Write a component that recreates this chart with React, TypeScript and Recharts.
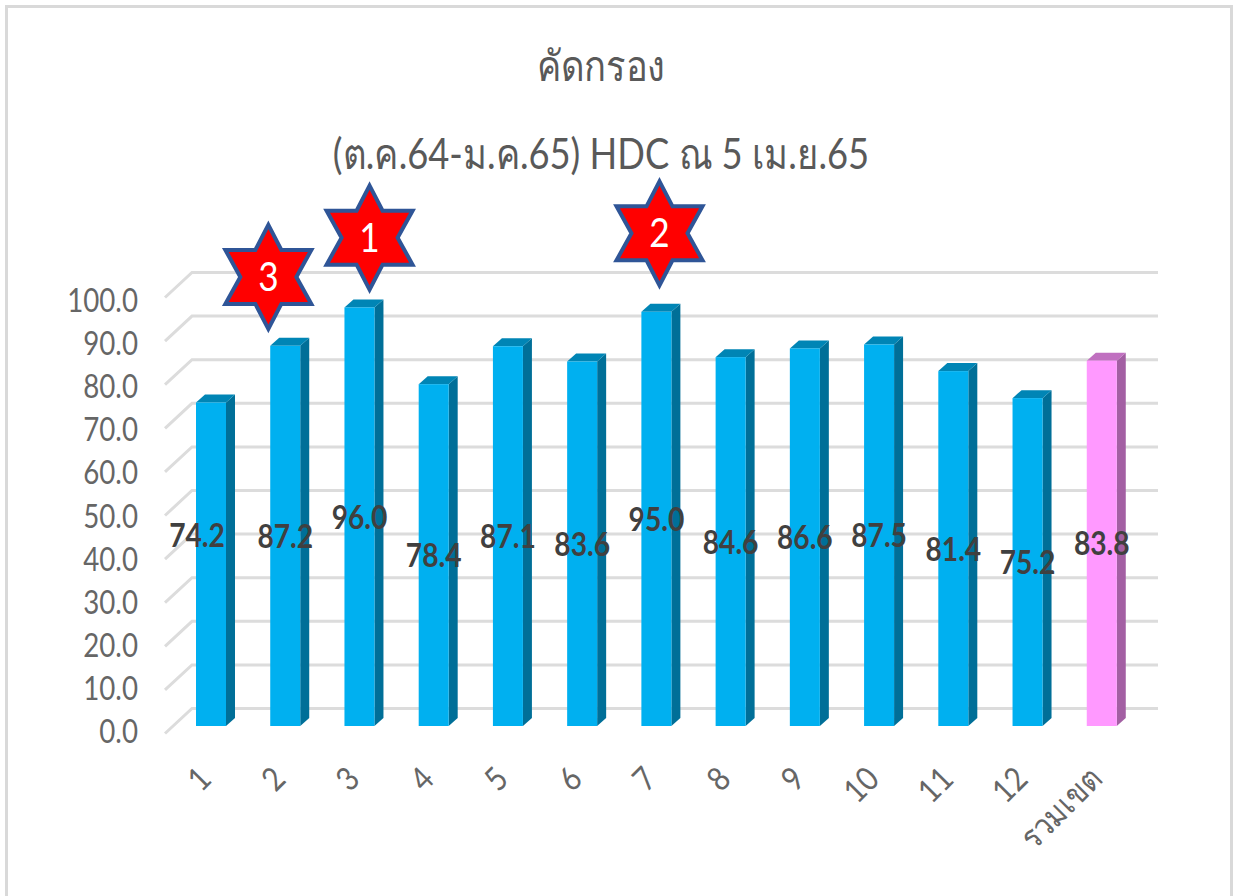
import { BarChart, Bar, XAxis, YAxis, LabelList, ReferenceDot, CartesianGrid } from 'recharts';

const categories = ['1', '2', '3', '4', '5', '6', '7', '8', '9', '10', '11', '12', 'รวมเขต'];
const values = [74.2, 87.2, 96.0, 78.4, 87.1, 83.6, 95.0, 84.6, 86.6, 87.5, 81.4, 75.2, 83.8];
const yTicks = [0, 10, 20, 30, 40, 50, 60, 70, 80, 90, 100];
const rankCategories = ['3', '7', '2'];
const rankLabels = ['1', '2', '3'];
const rankLevels = [112, 113, 103];
const titleLines = ['คัดกรอง', '(ต.ค.64-ม.ค.65) HDC ณ 5 เม.ย.65'];

const rows = categories.map((c, i) => ({ category: c, value: values[i] }));

const FONT = 'Lato, "Noto Sans", sans-serif';
const PLOT_LEFT = 174;
const GRID_RIGHT = 1158;

const blue = { front: '#00b0f0', side: '#006f98', top: '#0085b5' };
const pink = { front: '#ff99ff', side: '#a35fa3', top: '#c070c0' };

function Bar3D(props: any) {
  const { x, y, width, height, payload } = props;
  const c = payload.category === 'รวมเขต' ? pink : blue;
  const dx = 9;
  const dy = 8;
  return (
    <g>
      <polygon points={`${x + width},${y} ${x + width + dx},${y - dy} ${x + width + dx},${y + height - dy} ${x + width},${y + height}`} fill={c.side} />
      <polygon points={`${x},${y} ${x + dx},${y - dy} ${x + width + dx},${y - dy} ${x + width},${y}`} fill={c.top} />
      <rect x={x} y={y} width={width} height={height} fill={c.front} />
    </g>
  );
}

// gridline runs up the side wall and then along the back
function GridLine(props: any) {
  const { y1 } = props;
  return <path d={`M165 ${y1 + 7.5} L192 ${y1 - 17.5} L${GRID_RIGHT} ${y1 - 17.5}`} fill="none" stroke="#dcdcdc" strokeWidth={3} />;
}

function YTick(props: any) {
  const { y, payload } = props;
  // the original labels drift a little from their lines towards the top
  const drift = (Number(payload.value) / 100) * 5;
  return (
    <text transform={`translate(138 ${y + 17 + drift}) scale(0.84 1)`} textAnchor="end" fontSize={33} fontFamily={FONT} fill="#666666">
      {Number(payload.value).toFixed(1)}
    </text>
  );
}

function XTick(props: any) {
  const { x, y, payload } = props;
  return (
    <g transform={`translate(${x + 2} ${y + 47}) rotate(-45) scale(0.88 1)`}>
      <text textAnchor="end" fontSize={33} fontFamily={FONT} fill="#666666">{payload.value}</text>
    </g>
  );
}

function ValueLabel(props: any) {
  const { x, y, width, height, value, index } = props;
  // first label was dragged off its bar in the original
  const shiftX = index === 0 ? -14 : 0;
  const shiftY = index === 0 ? -28 : 1;
  return (
    <text
      transform={`translate(${x + width / 2 + shiftX} ${y + height / 2 + shiftY + 11}) scale(0.88 1)`}
      textAnchor="middle"
      fontSize={32}
      fontWeight={700}
      fontFamily={FONT}
      fill="#404040"
    >
      {Number(value).toFixed(1)}
    </text>
  );
}

function Star(props: any) {
  const { cx, cy, text, shift } = props;
  const pts = [[0, -52], [13, -27], [43, -27], [28, 0], [43, 27], [13, 27], [0, 52], [-13, 27], [-43, 27], [-28, 0], [-43, -27], [-13, -27]];
  return (
    <g transform={`translate(${cx + shift} ${cy})`}>
      <polygon points={pts.map(p => p.join(',')).join(' ')} fill="#ff0000" stroke="#2f5597" strokeWidth={4} strokeLinejoin="miter" />
      <text transform="translate(0 14) scale(0.88 1)" textAnchor="middle" fontSize={40} fontFamily={FONT} fill="#ffffff">{text}</text>
    </g>
  );
}

const starShift = [10, 3, -17];

const titleStyle = {
  position: 'absolute',
  left: 0,
  width: 1202,
  textAlign: 'center',
  fontFamily: FONT,
  fontSize: 42,
  lineHeight: '56px',
  color: '#595959',
  transform: 'scaleX(0.865)',
} as const;

export default function App() {
  return (
    <div style={{ position: 'absolute', left: 0, top: 0, width: 1236, height: 896, overflow: 'hidden', background: '#fff' }}>
      <div style={{ position: 'absolute', left: 5, top: 5, width: 1222, height: 900, border: '3px solid #d9d9d9' }} />
      <div style={{ ...titleStyle, top: 37 }}>{titleLines[0]}</div>
      <div style={{ ...titleStyle, top: 125 }}>{titleLines[1]}</div>
      <div style={{ position: 'absolute', left: 0, top: 0 }}>
        <BarChart width={1236} height={896} data={rows} margin={{ top: 290, right: 97, bottom: 0, left: 0 }}>
          <CartesianGrid vertical={false} horizontalValues={yTicks} horizontal={(p: any) => <GridLine key={p.index} {...p} />} />
          <YAxis width={PLOT_LEFT} domain={[0, 100]} ticks={yTicks} axisLine={false} tickLine={false} interval={0} tick={<YTick />} />
          <XAxis dataKey="category" height={170} axisLine={false} tickLine={false} interval={0} tick={<XTick />} />
          <Bar dataKey="value" barSize={30} shape={<Bar3D />} isAnimationActive={false}>
            <LabelList dataKey="value" content={<ValueLabel />} />
          </Bar>
          {rankCategories.map((c, i) => (
            <ReferenceDot
              key={c}
              x={c}
              y={rankLevels[i]}
              ifOverflow="visible"
              shape={(p: any) => <Star cx={p.cx} cy={p.cy} text={rankLabels[i]} shift={starShift[i]} />}
            />
          ))}
        </BarChart>
      </div>
    </div>
  );
}
